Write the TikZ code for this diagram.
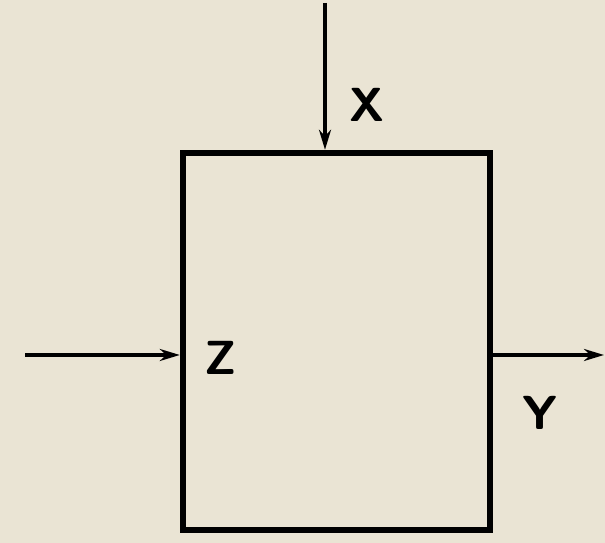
\documentclass[tikz,border=0pt]{standalone}
\usepackage{tikz}
\usetikzlibrary{arrows.meta,positioning,calc}
\definecolor{paper}{RGB}{234,228,212}
\tikzset{
  blk/.style={draw, rectangle, line width=4.5pt, minimum width=7.675cm, minimum height=9.425cm, inner sep=0pt},
  arr/.style={-{Stealth[length=5mm,width=3mm]}, line width=2.4pt},
  lbl/.style={font=\sffamily\bfseries\fontsize{34}{36}\selectfont, inner sep=1pt},
}
\begin{document}
\begin{tikzpicture}[x=0.025cm,y=0.025cm]
\fill[paper] (0,0) rectangle (605,543);
\useasboundingbox (0,0) rectangle (605,543);
\node[blk] (box) at (336.5,201.5) {};
\coordinate (xin) at (325,540);
\coordinate (zin) at (25,188);
\coordinate (yout) at (604,188);
\draw[arr] (xin) -- (xin |- box.north);
\draw[arr] (zin) -- (zin -| box.west);
\draw[arr] (yout -| box.east) -- (yout);
\node[lbl] (xl) at (367,438) {X};
\node[lbl] (zl) at (221,185) {Z};
\node[lbl] (yl) at (540,130) {Y};
\end{tikzpicture}
\end{document}
